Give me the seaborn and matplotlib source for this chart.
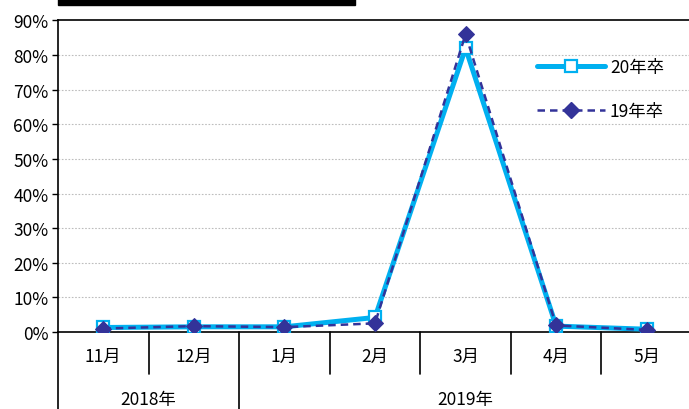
import matplotlib
matplotlib.use("Agg")
import matplotlib.pyplot as plt
import seaborn as sns
import numpy as np
import pandas as pd
from matplotlib.patches import Rectangle
from matplotlib.lines import Line2D

months = ["11月", "12月", "1月", "2月", "3月", "4月", "5月"]
years = ["2018年", "2019年"]
year_spans = [2, 5]
series_20 = [1.3, 1.5, 1.5, 4.2, 82.0, 1.7, 0.8]
series_19 = [1.0, 1.7, 1.4, 2.5, 86.0, 1.9, 0.6]
label_20 = "20年卒"
label_19 = "19年卒"
yticks = [0, 10, 20, 30, 40, 50, 60, 70, 80, 90]

sns.set_theme(style="white")
plt.rcParams['font.family'] = ['Noto Sans CJK JP', 'DejaVu Sans']
plt.rcParams['text.color'] = 'black'
plt.rcParams['ytick.color'] = 'black'
plt.rcParams['xtick.color'] = 'black'

W, H = 689, 410
fig = plt.figure(figsize=(W / 100, H / 100), dpi=100)
x0, x1 = 58, 692
y_top, y_bot = 21.4, 333
ax = fig.add_axes([x0 / W, (H - y_bot) / H, (x1 - x0) / W, (y_bot - y_top) / H])

pos = np.arange(len(months))
df20 = pd.DataFrame({"x": pos, "y": series_20})
df19 = pd.DataFrame({"x": pos, "y": series_19})

blue = "#00B0F0"
navy = "#333399"

sns.lineplot(data=df20, x="x", y="y", ax=ax, color=blue, lw=3.6, marker="s",
             markersize=9, markerfacecolor="white", markeredgecolor=blue,
             markeredgewidth=1.6, zorder=3, legend=False)
sns.lineplot(data=df19, x="x", y="y", ax=ax, color=navy, lw=1.8, linestyle=(0, (3, 2)),
             marker="D", markersize=8, markerfacecolor=navy, markeredgecolor=navy,
             zorder=4, legend=False)

ax.set_xlim(-0.5, len(months) - 0.5)
ax.set_ylim(0, 90)
ax.set_yticks(yticks)
ax.set_yticklabels([f"{v}%" for v in yticks], fontsize=12.5, color="black")
ax.set_xticks([])
ax.set_xlabel("")
ax.set_ylabel("")
for v in yticks[1:-1]:
    ax.axhline(v, color="#bdbdbd", lw=0.8, ls=(0, (1.5, 1.5)), zorder=1)
ax.tick_params(axis="y", left=True, length=4, width=1, color="black", pad=3)
ax.spines["right"].set_visible(False)
for s in ["left", "top", "bottom"]:
    ax.spines[s].set_color("black")
    ax.spines[s].set_linewidth(1.2)

trans = ax.get_xaxis_transform()
h_ax = y_bot - y_top
month_depth = -(375 - y_bot) / h_ax
year_depth = -(H - y_bot + 2) / h_ax
for i, m in enumerate(months):
    ax.text(i, -(357 - y_bot) / h_ax, m, transform=trans, ha="center", va="center",
            fontsize=12.5, color="black")
boundaries = np.cumsum([0] + year_spans) - 0.5
for b in np.arange(-0.5, len(months) - 0.5 + 1e-9, 1.0):
    depth = year_depth if np.any(np.isclose(b, boundaries)) else month_depth
    ax.plot([b, b], [0, depth], transform=trans, color="black", lw=1.2, clip_on=False)
start = 0
for yname, span in zip(years, year_spans):
    center = start + (span - 1) / 2
    ax.text(center, -(400 - y_bot) / h_ax, yname, transform=trans, ha="center", va="center",
            fontsize=12.5, color="black")
    start += span

handles = [
    Line2D([], [], color=blue, lw=3.6, marker="s", markersize=9, markerfacecolor="white",
           markeredgecolor=blue, markeredgewidth=1.6),
    Line2D([], [], color=navy, lw=1.8, linestyle=(0, (3, 2)), marker="D", markersize=8,
           markerfacecolor=navy, markeredgecolor=navy),
]
leg = ax.legend(handles, [label_20, label_19], loc="upper left",
                bbox_to_anchor=((530 - x0) / (x1 - x0), (y_bot - 52) / h_ax),
                frameon=False, fontsize=12.5, handlelength=3.9, handletextpad=0.3,
                labelspacing=1.5, borderaxespad=0)
for t in leg.get_texts():
    t.set_color("black")

fig.add_artist(Rectangle((58 / W, 1 - 6 / H), (355 - 58) / W, 6 / H + 0.01,
                         transform=fig.transFigure, color="black", clip_on=False))

fig.savefig("out.png", dpi=100)
